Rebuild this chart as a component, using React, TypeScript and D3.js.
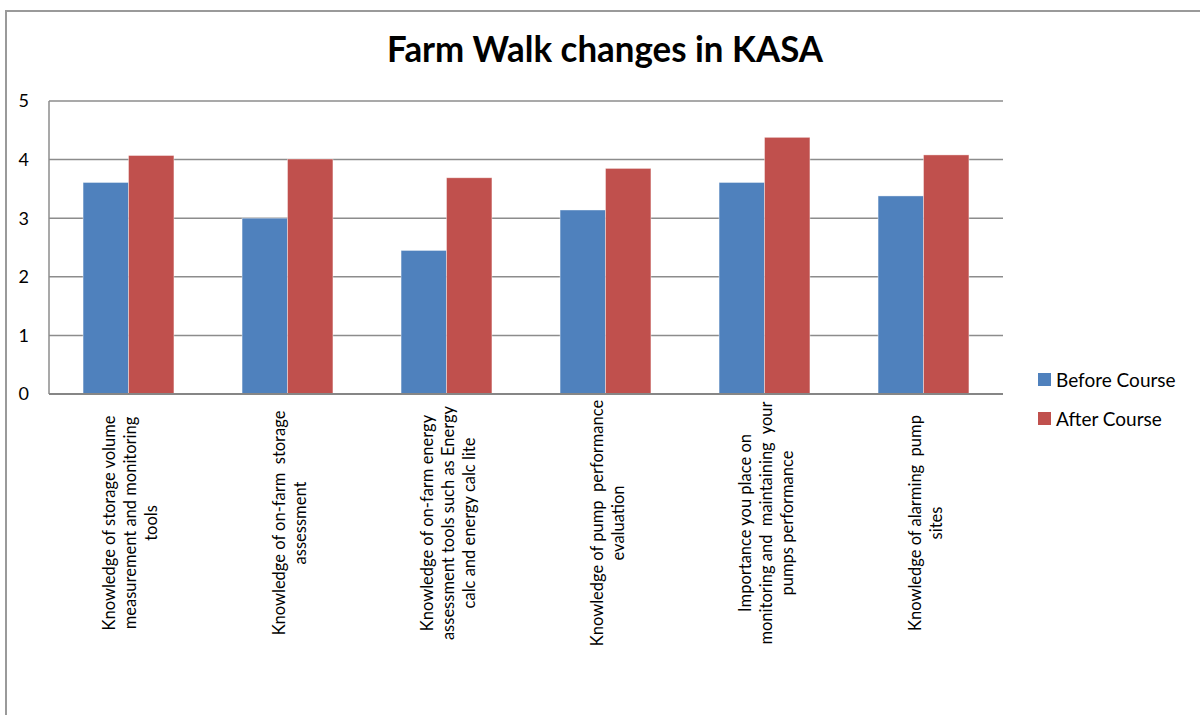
import React from "react";
import * as d3 from "d3";

const categories: string[][] = [
  ["Knowledge of storage volume", "measurement and monitoring", "tools"],
  ["Knowledge of on-farm  storage", "assessment"],
  ["Knowledge of on-farm energy", "assessment tools such as Energy", "calc and energy calc lite"],
  ["Knowledge of pump  performance", "evaluation"],
  ["Importance you place on", "monitoring and  maintaining  your", "pumps performance"],
  ["Knowledge of alarming  pump", "sites"],
];
const seriesNames = ["Before Course", "After Course"];
const beforeValues = [3.61, 3.0, 2.45, 3.14, 3.61, 3.38];
const afterValues = [4.07, 4.01, 3.69, 3.85, 4.38, 4.08];
const yTicks = [0, 1, 2, 3, 4, 5];
const colors = ["#4F81BD", "#C0504D"];
const title = "Farm Walk changes in KASA";

export default function App() {
  const W = 1200, H = 715;
  const left = 49, right = 1003, top = 101, bottom = 394;
  const idx = categories.map((_, i) => String(i));
  const x0 = d3.scaleBand<string>().domain(idx).range([left, right]).padding(0);
  const x1 = d3.scaleBand<string>().domain(seriesNames).range([0, x0.bandwidth()]).paddingInner(0).paddingOuter(0.75);
  const y = d3.scaleLinear().domain([0, 5]).range([bottom, top]);
  const series = [beforeValues, afterValues];
  const font = "Lato, 'Open Sans', sans-serif";
  const labelY = 523;
  const lineH = 21;

  return (
    <svg width={W} height={H} style={{ position: "absolute", left: 0, top: 0, background: "#fff" }}>
      <rect x={0} y={0} width={W} height={H} fill="#fff" />
      <rect x={6} y={11} width={W + 20} height={H + 20} fill="none" stroke="#9a9a9a" strokeWidth={2} />
      <text x={605} y={62} textAnchor="middle" fontFamily={font} fontWeight="bold" fontSize={36}
        textLength={436} lengthAdjust="spacingAndGlyphs" fill="#000">{title}</text>
      {yTicks.map((t) => (
        <g key={t}>
          <line x1={left} x2={right} y1={y(t)} y2={y(t)} stroke="#8c8c8c" strokeWidth={t === 0 ? 2 : 1.5} />
          <text x={29} y={y(t)} dy="0.35em" textAnchor="end" fontFamily={font} fontSize={18} fill="#000">{t}</text>
        </g>
      ))}
      <line x1={left} x2={left} y1={top} y2={bottom} stroke="#8c8c8c" strokeWidth={1.5} />
      {series.map((vals, s) => (
        <g key={s}>
          {vals.map((v, i) => (
            <rect key={i}
              x={(x0(String(i)) as number) + (x1(seriesNames[s]) as number)}
              y={y(v)}
              width={x1.bandwidth()}
              height={y(0) - y(v)}
              fill={colors[s]}
              stroke="#ffffff" strokeOpacity={0.5} strokeWidth={0.8} />
          ))}
        </g>
      ))}
      <line x1={left} x2={right} y1={bottom} y2={bottom} stroke="#868686" strokeWidth={2} />
      {categories.map((lines, i) => {
        const cx = (x0(String(i)) as number) + x0.bandwidth() / 2;
        return (
          <g key={i}>
            {lines.map((ln, j) => {
              const lx = cx + (j - (lines.length - 1) / 2) * lineH + 2;
              return (
                <text key={j} transform={`translate(${lx},${labelY}) rotate(-90)`} dy="0.35em"
                  textAnchor="middle" fontFamily={font} fontSize={16.5} fill="#000"
                  style={{ whiteSpace: "pre" }}>{ln}</text>
              );
            })}
          </g>
        );
      })}
      {seriesNames.map((n, s) => (
        <g key={n} transform={`translate(1038,${380 + s * 39})`}>
          <rect x={0} y={-7} width={13} height={13} fill={colors[s]} />
          <text x={18} y={0} dy="0.35em" fontFamily={font} fontSize={19} fill="#000">{n}</text>
        </g>
      ))}
    </svg>
  );
}
